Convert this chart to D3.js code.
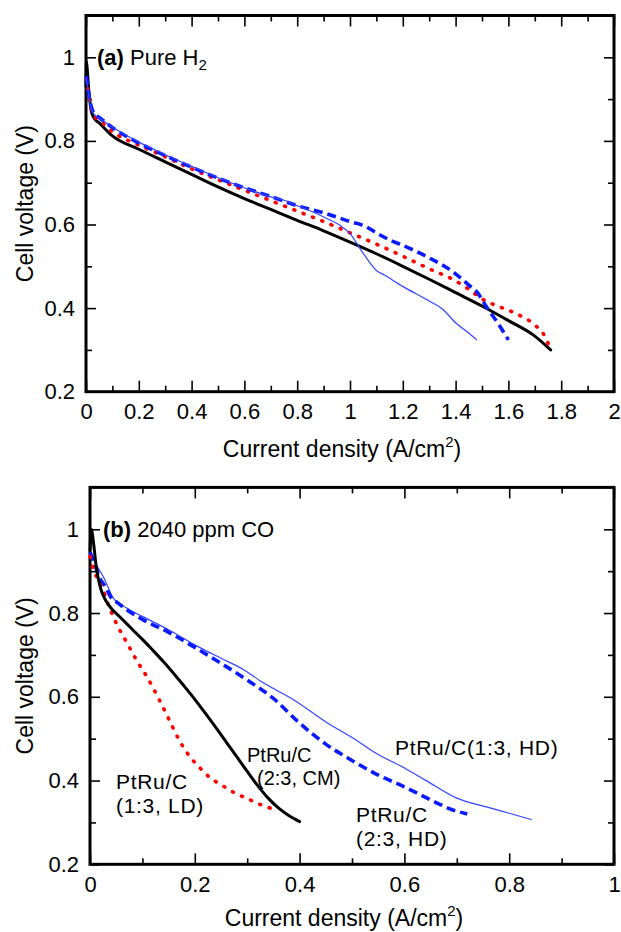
<!DOCTYPE html>
<html><head><meta charset="utf-8">
<script src="https://cdn.jsdelivr.net/npm/d3@7"></script>
<style>
body{margin:0;background:#fff;}
svg text{font-family:"Liberation Sans",Arial,Helvetica,sans-serif;fill:#000;}
</style></head>
<body><svg id="c" width="621" height="932"></svg>
<script>
// ---------- data ----------
const xTicksA = [0,0.2,0.4,0.6,0.8,1,1.2,1.4,1.6,1.8,2];
const xTicksB = [0,0.2,0.4,0.6,0.8,1];
const yTicks = [0.2,0.4,0.6,0.8,1];

// Panel (a) Pure H2
const a_black = [[0,0.93],[0.002,0.99],[0.006,0.96],[0.012,0.91],[0.02,0.872],[0.03,0.855],[0.05,0.843],[0.1,0.812],[0.2,0.78],[0.3,0.75],[0.4,0.72],[0.5,0.69],[0.6,0.662],[0.7,0.636],[0.8,0.61],[0.9,0.585],[1.0,0.558],[1.1,0.53],[1.2,0.5],[1.3,0.469],[1.4,0.437],[1.5,0.405],[1.6,0.37],[1.7,0.333],[1.76,0.30]];
const a_red = [[0,0.948],[0.006,0.93],[0.012,0.9],[0.02,0.875],[0.03,0.86],[0.05,0.85],[0.1,0.822],[0.2,0.79],[0.3,0.762],[0.4,0.733],[0.5,0.707],[0.6,0.682],[0.7,0.657],[0.8,0.632],[0.9,0.607],[1.0,0.58],[1.1,0.553],[1.2,0.524],[1.3,0.494],[1.4,0.465],[1.45,0.445],[1.5,0.422],[1.55,0.407],[1.6,0.395],[1.65,0.38],[1.7,0.36],[1.74,0.33],[1.76,0.30]];
const a_blueDash = [[0,0.955],[0.006,0.935],[0.012,0.905],[0.02,0.882],[0.03,0.866],[0.05,0.856],[0.1,0.832],[0.2,0.795],[0.3,0.765],[0.4,0.737],[0.5,0.711],[0.6,0.688],[0.7,0.667],[0.8,0.645],[0.9,0.628],[1.0,0.607],[1.06,0.595],[1.1,0.58],[1.15,0.563],[1.2,0.55],[1.25,0.536],[1.3,0.52],[1.35,0.503],[1.4,0.482],[1.45,0.455],[1.48,0.439],[1.52,0.40],[1.56,0.364],[1.6,0.324]];
const a_blueThin = [[0,0.95],[0.006,0.93],[0.012,0.9],[0.02,0.878],[0.03,0.864],[0.05,0.855],[0.1,0.833],[0.2,0.797],[0.3,0.767],[0.4,0.739],[0.5,0.712],[0.6,0.688],[0.7,0.666],[0.75,0.658],[0.8,0.645],[0.87,0.627],[0.92,0.612],[0.96,0.599],[1.0,0.578],[1.05,0.531],[1.1,0.49],[1.13,0.479],[1.2,0.452],[1.3,0.417],[1.35,0.398],[1.4,0.365],[1.44,0.345],[1.48,0.324]];

// Panel (b) 2040 ppm CO
const b_black = [[0,0.95],[0.003,1.0],[0.006,0.975],[0.012,0.91],[0.02,0.86],[0.03,0.83],[0.04,0.812],[0.06,0.787],[0.08,0.762],[0.1,0.737],[0.12,0.711],[0.14,0.684],[0.16,0.655],[0.18,0.625],[0.2,0.594],[0.22,0.561],[0.24,0.527],[0.26,0.492],[0.28,0.457],[0.3,0.422],[0.32,0.388],[0.34,0.358],[0.36,0.334],[0.38,0.316],[0.40,0.302]];
const b_red = [[0,0.935],[0.006,0.907],[0.015,0.88],[0.025,0.855],[0.035,0.82],[0.05,0.776],[0.07,0.73],[0.09,0.685],[0.11,0.645],[0.13,0.598],[0.15,0.548],[0.17,0.497],[0.19,0.458],[0.21,0.43],[0.23,0.406],[0.25,0.39],[0.28,0.368],[0.30,0.357],[0.33,0.34],[0.355,0.33]];
const b_blueDash = [[0,0.945],[0.006,0.927],[0.02,0.88],[0.03,0.862],[0.04,0.837],[0.05,0.827],[0.07,0.808],[0.1,0.785],[0.15,0.754],[0.2,0.718],[0.25,0.68],[0.3,0.64],[0.35,0.596],[0.4,0.537],[0.45,0.487],[0.5,0.448],[0.55,0.413],[0.6,0.385],[0.65,0.354],[0.69,0.331],[0.72,0.32]];
const b_blueThin = [[0,0.945],[0.01,0.92],[0.026,0.885],[0.045,0.835],[0.07,0.812],[0.1,0.792],[0.15,0.76],[0.2,0.724],[0.25,0.692],[0.29,0.667],[0.33,0.634],[0.39,0.592],[0.45,0.54],[0.5,0.503],[0.55,0.462],[0.6,0.43],[0.64,0.401],[0.7,0.358],[0.76,0.336],[0.8,0.322],[0.842,0.307]];

// ---------- drawing ----------
const svg = d3.select("#c");
const fmt = d3.format("~g");

const styles = {
  black:{stroke:"#000",width:3,dash:null,cap:"round"},
  red:{stroke:"#ff0000",width:3.6,dash:"1,9",cap:"round"},
  blueDash:{stroke:"#0a1aff",width:3.6,dash:"9,5",cap:"butt"},
  blueThin:{stroke:"#3344ff",width:1.2,dash:null,cap:"round"}
};

function panel(cfg){
  const {left,right,top,bottom,xmax,xTicks,series} = cfg;
  const x = d3.scaleLinear().domain([0,xmax]).range([left,right]);
  const y = d3.scaleLinear().domain([0.2,1.1]).range([bottom,top]);
  const g = svg.append("g");
  const minorX = d3.range(0, xmax+1e-9, xmax/ (xmax===2?20:10)).map(v=>+v.toFixed(3)).filter(v=>!xTicks.includes(v));
  const minorY = [0.3,0.5,0.7,0.9];
  const axStyle = sel => {
    sel.select(".domain").remove();
    sel.selectAll(".tick line").attr("stroke","#000").attr("stroke-width",1.6);
    sel.selectAll(".tick text").attr("font-size",22).attr("fill","#000")
      .style("font-family",'"Liberation Sans",Arial,sans-serif');
  };
  // bottom
  g.append("g").attr("transform",`translate(0,${bottom})`)
    .call(d3.axisBottom(x).tickValues(xTicks).tickSize(-11).tickPadding(12).tickFormat(fmt)).call(axStyle);
  g.append("g").attr("transform",`translate(0,${bottom})`)
    .call(d3.axisBottom(x).tickValues(minorX).tickSize(-6).tickFormat("")).call(axStyle);
  // top
  g.append("g").attr("transform",`translate(0,${top})`)
    .call(d3.axisTop(x).tickValues(xTicks).tickSize(-11).tickFormat("")).call(axStyle);
  g.append("g").attr("transform",`translate(0,${top})`)
    .call(d3.axisTop(x).tickValues(minorX).tickSize(-6).tickFormat("")).call(axStyle);
  // left
  g.append("g").attr("transform",`translate(${left},0)`)
    .call(d3.axisLeft(y).tickValues(yTicks).tickSize(-10).tickPadding(11).tickFormat(fmt)).call(axStyle);
  g.append("g").attr("transform",`translate(${left},0)`)
    .call(d3.axisLeft(y).tickValues(minorY).tickSize(-6).tickFormat("")).call(axStyle);
  // right
  g.append("g").attr("transform",`translate(${right},0)`)
    .call(d3.axisRight(y).tickValues(yTicks).tickSize(-10).tickFormat("")).call(axStyle);
  g.append("g").attr("transform",`translate(${right},0)`)
    .call(d3.axisRight(y).tickValues(minorY).tickSize(-6).tickFormat("")).call(axStyle);
  // frame
  g.append("rect").attr("x",left).attr("y",top).attr("width",right-left).attr("height",bottom-top)
    .attr("fill","none").attr("stroke","#000").attr("stroke-width",3);
  // curves
  const line = d3.line().x(d=>x(d[0])).y(d=>y(d[1])).curve(d3.curveMonotoneX);
  series.forEach(s=>{
    const st = styles[s.style];
    g.append("path").datum(s.data).attr("d",line).attr("fill","none")
      .attr("stroke",st.stroke).attr("stroke-width",st.width)
      .attr("stroke-dasharray",st.dash).attr("stroke-linecap",st.cap).attr("stroke-linejoin","round");
  });
  // axis titles
  const xt = g.append("text").attr("x",(left+right)/2-8).attr("y",cfg.xTitleY)
    .attr("text-anchor","middle").attr("font-size",23);
  xt.append("tspan").text("Current density (A/cm");
  xt.append("tspan").text("2").attr("font-size",15).attr("dy",-10);
  xt.append("tspan").text(")").attr("dy",10);
  g.append("text").attr("transform",`translate(33,${(top+bottom)/2}) rotate(-90)`)
    .attr("text-anchor","middle").attr("font-size",23).text("Cell voltage (V)");
  return {x,y,g};
}

const A = panel({left:86,right:614,top:15.5,bottom:391.7,xmax:2,xTicks:xTicksA,xTitleY:457,
  series:[{data:a_black,style:"black"},{data:a_red,style:"red"},{data:a_blueDash,style:"blueDash"},{data:a_blueThin,style:"blueThin"}]});
const B = panel({left:90,right:614,top:487.4,bottom:864.3,xmax:1,xTicks:xTicksB,xTitleY:926,
  series:[{data:b_blueThin,style:"blueThin"},{data:b_blueDash,style:"blueDash"},{data:b_red,style:"red"},{data:b_black,style:"black"}]});

// panel labels
const la = A.g.append("text").attr("x",97).attr("y",65).attr("font-size",22);
la.append("tspan").text("(a)").attr("font-weight","bold");
la.append("tspan").text(" Pure H");
la.append("tspan").text("2").attr("font-size",15).attr("dy",5);

const lb = B.g.append("text").attr("x",103).attr("y",537).attr("font-size",22);
lb.append("tspan").text("(b)").attr("font-weight","bold");
lb.append("tspan").text(" 2040 ppm CO");

// annotations in panel (b)
const ann = [
  {t:["PtRu/C","(1:3, LD)"], x:116, y:[789,813], fs:21},
  {t:["PtRu/C","(2:3, CM)"], x:[247,257], y:[762,785], fs:20},
  {t:["PtRu/C(1:3, HD)"], x:395, y:[755], fs:21},
  {t:["PtRu/C","(2:3, HD)"], x:356, y:[822,846], fs:21}
];
ann.forEach(a=>{
  a.t.forEach((s,i)=>{
    B.g.append("text").attr("x",Array.isArray(a.x)?a.x[i]:a.x).attr("y",a.y[i])
      .attr("font-size",a.fs).attr("letter-spacing",a.fs===21?0.7:0).text(s);
  });
});
</script></body></html>
